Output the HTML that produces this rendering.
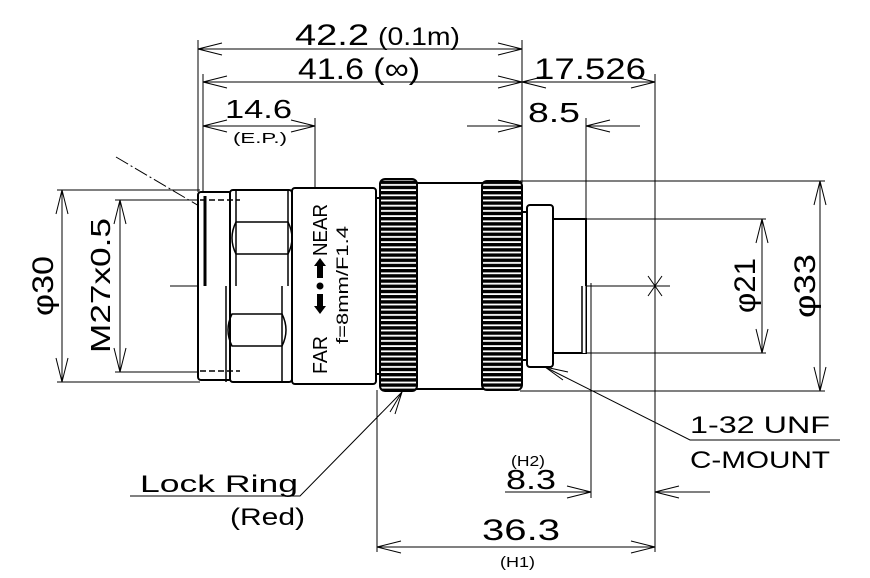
<!DOCTYPE html>
<html><head><style>
html,body{margin:0;padding:0;background:#fff;}
svg{display:block;}
text{font-family:"Liberation Sans",sans-serif;fill:#000;}
</style></head><body>
<svg width="870" height="578" viewBox="0 0 870 578" xmlns="http://www.w3.org/2000/svg">
<defs>
<pattern id="kn" width="6" height="5.2" patternUnits="userSpaceOnUse">
<rect width="6" height="5.2" fill="#000"/>
<rect x="0" y="2" width="6" height="1.8" fill="#fff"/>
</pattern>
</defs>
<g stroke="#000" stroke-width="1" fill="none">
<line x1="198" y1="40" x2="198" y2="192"/>
<line x1="203" y1="74" x2="203" y2="192"/>
<line x1="522" y1="40" x2="522" y2="183"/>
<line x1="655" y1="74" x2="655" y2="552"/>
<line x1="315" y1="118" x2="315" y2="286"/>
<line x1="586" y1="118" x2="586" y2="219"/>
<line x1="377" y1="390" x2="377" y2="552"/>
<line x1="591" y1="283" x2="591" y2="498"/>
<line x1="198" y1="49" x2="522" y2="49"/>
<polyline points="222,43 198,49 222,55"/><polyline points="498,43 522,49 498,55"/>
<line x1="203" y1="82" x2="655" y2="82"/>
<polyline points="227,76 203,82 227,88"/><polyline points="498,76 522,82 498,88"/>
<polyline points="546,76 522,82 546,88"/><polyline points="631,76 655,82 631,88"/>
<line x1="203" y1="126" x2="315" y2="126"/>
<polyline points="227,120 203,126 227,132"/><polyline points="291,120 315,126 291,132"/>
<line x1="467" y1="126" x2="522" y2="126"/>
<polyline points="498,120 522,126 498,132"/>
<line x1="586" y1="126" x2="640" y2="126"/>
<polyline points="610,120 586,126 610,132"/>
<line x1="57" y1="190" x2="200" y2="190"/>
<line x1="57" y1="382" x2="200" y2="382"/>
<line x1="62" y1="190" x2="62" y2="382"/>
<polyline points="56,214 62,190 68,214"/><polyline points="56,358 62,382 68,358"/>
<line x1="115" y1="200" x2="200" y2="200"/>
<line x1="115" y1="372" x2="200" y2="372"/>
<line x1="120" y1="200" x2="120" y2="372"/>
<polyline points="114,224 120,200 126,224"/><polyline points="114,348 120,372 126,348"/>
<line x1="116" y1="157" x2="250" y2="236" stroke-dasharray="14,3,2,3"/>
<line x1="520" y1="181" x2="825" y2="181"/>
<line x1="520" y1="391" x2="825" y2="391"/>
<line x1="820" y1="181" x2="820" y2="391"/>
<polyline points="814,205 820,181 826,205"/><polyline points="814,367 820,391 826,367"/>
<line x1="586" y1="219" x2="766" y2="219"/>
<line x1="583" y1="353" x2="766" y2="353"/>
<line x1="762" y1="219" x2="762" y2="353"/>
<polyline points="756,243 762,219 768,243"/><polyline points="756,329 762,353 768,329"/>
<line x1="170" y1="286" x2="670" y2="286"/>
<line x1="648" y1="276" x2="662" y2="296"/><line x1="662" y1="276" x2="648" y2="296"/>
<line x1="377" y1="547" x2="655" y2="547"/>
<polyline points="401,541 377,547 401,553"/><polyline points="631,541 655,547 631,553"/>
<line x1="505" y1="492" x2="591" y2="492"/>
<polyline points="567,486 591,492 567,498"/>
<line x1="655" y1="492" x2="710" y2="492"/>
<polyline points="679,486 655,492 679,498"/>
<polyline points="130,496 300,496 402,392"/>
<polyline points="390,412 402,392 395,414"/>
<polyline points="840,440 690,440 545,367"/>
<polyline points="568,372 545,367 563,380"/>
</g>
<g stroke="#000" stroke-width="2" fill="#fff">
<rect x="198" y="192" width="34" height="188" rx="3"/>
<rect x="230" y="190" width="62" height="192" rx="3"/>
<rect x="292" y="188" width="84" height="196" rx="3"/>
<rect x="376" y="198" width="6" height="176"/>
<rect x="416" y="183" width="68" height="206"/>
<rect x="520" y="212" width="8" height="148"/>
<rect x="527" y="205" width="26" height="162" rx="3"/>
<rect x="553" y="219" width="33" height="134"/>
</g>
<g stroke="#000" stroke-width="1.5" fill="none">
<line x1="205" y1="196" x2="205" y2="286" stroke-width="3"/>
<line x1="236" y1="190" x2="236" y2="286"/><line x1="288" y1="190" x2="288" y2="286"/>
<line x1="226" y1="286" x2="226" y2="382"/><line x1="282" y1="286" x2="282" y2="382"/>
<path d="M236 222 Q228 238 236 254 L288 254 Q296 238 288 222 Z"/>
<path d="M232 314 Q224 330 232 346 L282 346 Q290 330 282 314 Z"/>
<line x1="200" y1="200" x2="240" y2="200" stroke-dasharray="6,3"/>
<line x1="200" y1="371" x2="240" y2="371" stroke-dasharray="6,3"/>
<line x1="584" y1="286" x2="584" y2="353" stroke="#fff" stroke-width="3"/>
<line x1="582" y1="286" x2="582" y2="353"/>
</g>
<rect x="380" y="179" width="37" height="212" rx="5" fill="url(#kn)" stroke="#000" stroke-width="2"/>
<rect x="482" y="181" width="40" height="209" rx="5" fill="url(#kn)" stroke="#000" stroke-width="2"/>
<g transform="translate(320,286) rotate(-90)">
<text x="-88" y="7" font-size="20" textLength="38" lengthAdjust="spacingAndGlyphs">FAR</text>
<text x="30" y="7" font-size="20" textLength="52" lengthAdjust="spacingAndGlyphs">NEAR</text>
<circle cx="0" cy="0" r="3.5" fill="#000"/>
<path d="M-8 -3 L-20 -3 L-20 -6 L-28 0 L-20 6 L-20 3 L-8 3 Z" fill="#000"/>
<path d="M8 -3 L20 -3 L20 -6 L28 0 L20 6 L20 3 L8 3 Z" fill="#000"/>
<text x="-58" y="28" font-size="17" textLength="118" lengthAdjust="spacingAndGlyphs">f=8mm/F1.4</text>
</g>
<g lengthAdjust="spacingAndGlyphs">
<text x="295" y="45" font-size="30" textLength="74" lengthAdjust="spacingAndGlyphs">42.2</text>
<text x="378" y="45" font-size="25" textLength="82" lengthAdjust="spacingAndGlyphs">(0.1m)</text>
<text x="298" y="79" font-size="30" textLength="122" lengthAdjust="spacingAndGlyphs">41.6 (∞)</text>
<text x="534" y="79" font-size="30" textLength="112" lengthAdjust="spacingAndGlyphs">17.526</text>
<text x="225" y="118" font-size="26" textLength="67" lengthAdjust="spacingAndGlyphs">14.6</text>
<text x="233" y="143" font-size="15" textLength="54" lengthAdjust="spacingAndGlyphs">(E.P.)</text>
<text x="528" y="122" font-size="28" textLength="52" lengthAdjust="spacingAndGlyphs">8.5</text>
<text x="506" y="489" font-size="28" textLength="50" lengthAdjust="spacingAndGlyphs">8.3</text>
<text x="511" y="466" font-size="15" textLength="34" lengthAdjust="spacingAndGlyphs">(H2)</text>
<text x="482" y="540" font-size="30" textLength="78" lengthAdjust="spacingAndGlyphs">36.3</text>
<text x="500" y="567" font-size="15" textLength="35" lengthAdjust="spacingAndGlyphs">(H1)</text>
<text x="140" y="492" font-size="24" textLength="158" lengthAdjust="spacingAndGlyphs">Lock Ring</text>
<text x="230" y="525" font-size="24" textLength="75" lengthAdjust="spacingAndGlyphs">(Red)</text>
<text x="690" y="433" font-size="24" textLength="140" lengthAdjust="spacingAndGlyphs">1-32 UNF</text>
<text x="690" y="468" font-size="24" textLength="140" lengthAdjust="spacingAndGlyphs">C-MOUNT</text>
<text transform="translate(53,286) rotate(-90)" x="-30" y="0" font-size="30" textLength="60" lengthAdjust="spacingAndGlyphs">φ30</text>
<text transform="translate(110,286) rotate(-90)" x="-67" y="0" font-size="28" textLength="135" lengthAdjust="spacingAndGlyphs">M27x0.5</text>
<text transform="translate(755,286) rotate(-90)" x="-27" y="0" font-size="30" textLength="55" lengthAdjust="spacingAndGlyphs">φ21</text>
<text transform="translate(815,286) rotate(-90)" x="-32" y="0" font-size="30" textLength="64" lengthAdjust="spacingAndGlyphs">φ33</text>
</g>
</svg>
</body></html>
